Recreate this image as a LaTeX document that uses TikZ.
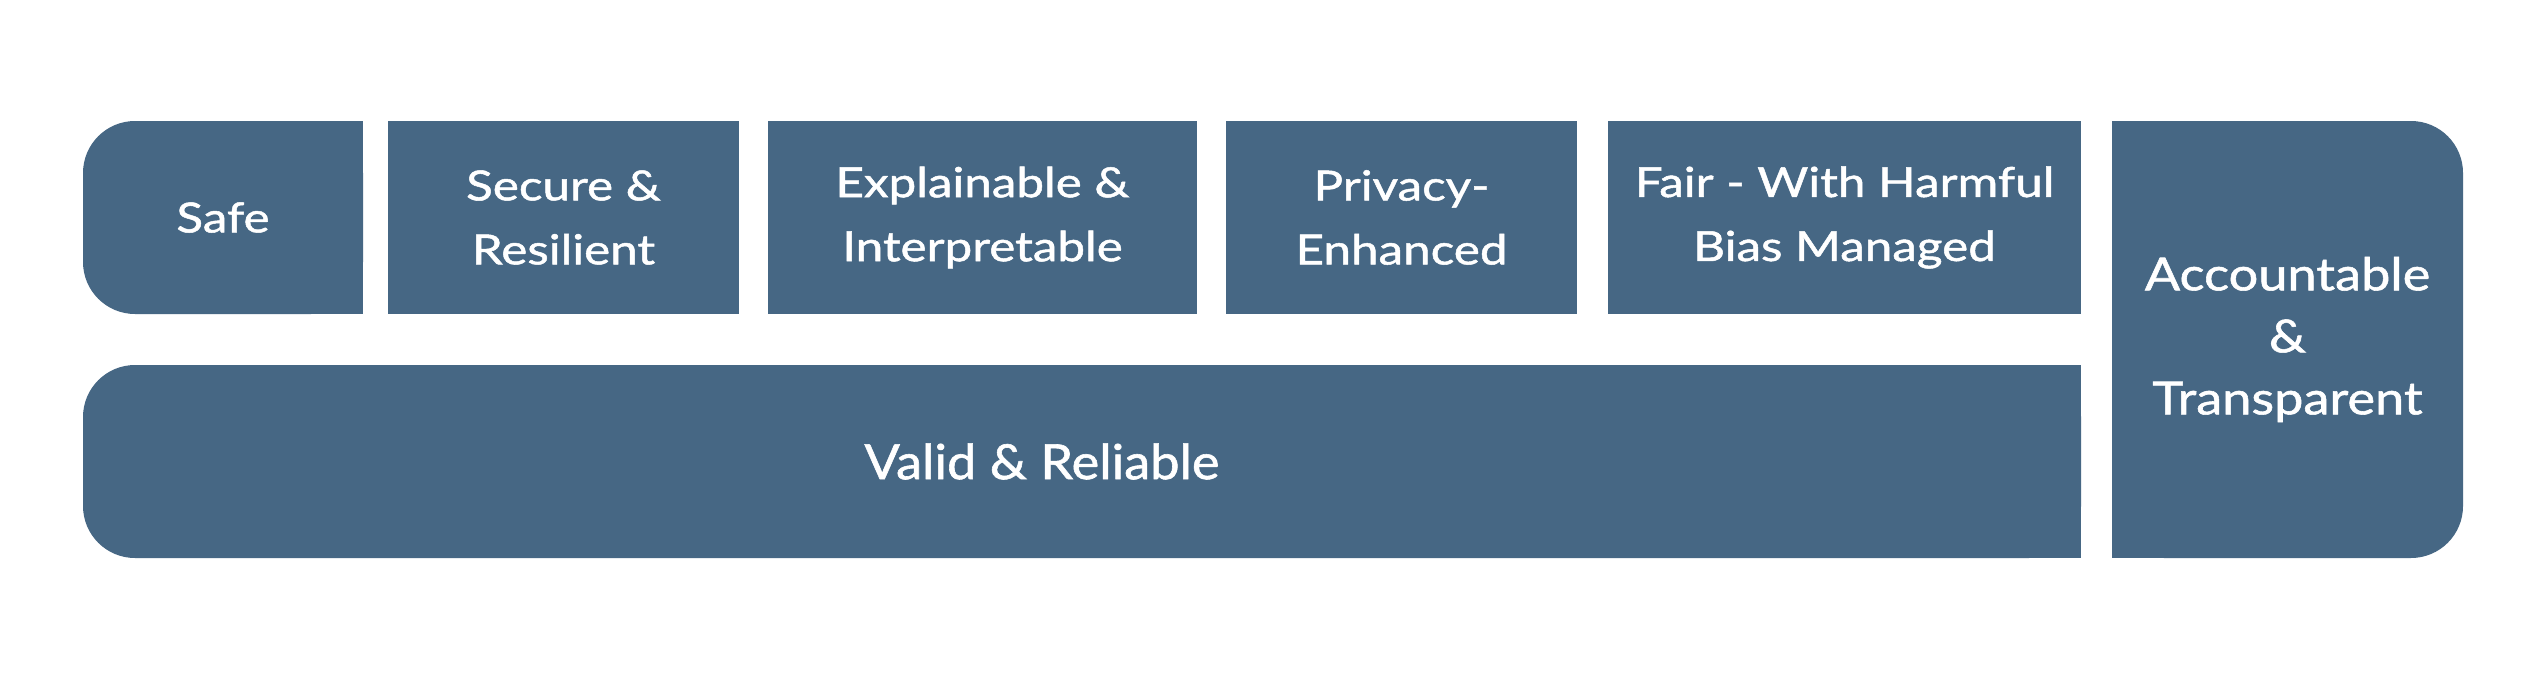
\documentclass[tikz,border=0pt]{standalone}
\usepackage{fontspec}
\setmainfont{Lato}
\newfontfamily\cellfont{Lato}[FakeStretch=1.19,FakeBold=1.2]
\newfontfamily\sidefont{Lato}[FakeStretch=1.15,FakeBold=1.2]
\newfontfamily\basefont{Lato}[FakeStretch=1.08,FakeBold=1.2]
\usetikzlibrary{backgrounds}
\definecolor{trustblue}{HTML}{466784}

\begin{document}
\begin{tikzpicture}[x=1pt,y=-1pt,
     box/.style={fill=trustblue,text=white,inner sep=0pt,align=center,
       minimum height=193pt,font=\cellfont\fontsize{41.5}{64}\selectfont},
     round/.style={box,rounded corners=52pt},
     lab/.style={text=white,inner sep=0pt,align=center}]
    \useasboundingbox (0,0) rectangle (2529,688);
    % top row
    \node[round,minimum width=280pt] (safe) at (223,217.5) {Safe};
    \node[box,minimum width=351pt] (secure) at (563.5,217.5) {Secure \&\\Resilient};
    \node[box,minimum width=429pt] (explain) at (982.5,217.5) {Explainable \&\\Interpretable};
    \node[box,minimum width=351pt] (privacy) at (1401.5,217.5) {Privacy-\\Enhanced};
    \node[box,minimum width=473pt] (fair) at (1844.5,217.5) {Fair - With Harmful\\Bias Managed};
    % base and side
    \node[round,minimum width=1998pt] (valid) at (1082,461.5) {};
    \node[lab,font=\basefont\fontsize{48.5}{60}\selectfont] (validlab)
      at ([xshift=-40pt]valid.center) {Valid \& Reliable};
    \node[round,minimum width=351pt,minimum height=437pt,
      font=\sidefont\fontsize{45.5}{62}\selectfont] (account) at (2287.5,339.5)
      {Accountable\\\&\\Transparent};
    % square off the inner corners
    \begin{scope}[on background layer]
      \fill[white] (0,0) rectangle (2529,688);
      \fill[trustblue] (safe.north) rectangle (safe.south east);
      \fill[trustblue] (valid.north) rectangle (valid.south east);
      \fill[trustblue] (account.north west) rectangle (account.south);
    \end{scope}
\end{tikzpicture}
\end{document}
